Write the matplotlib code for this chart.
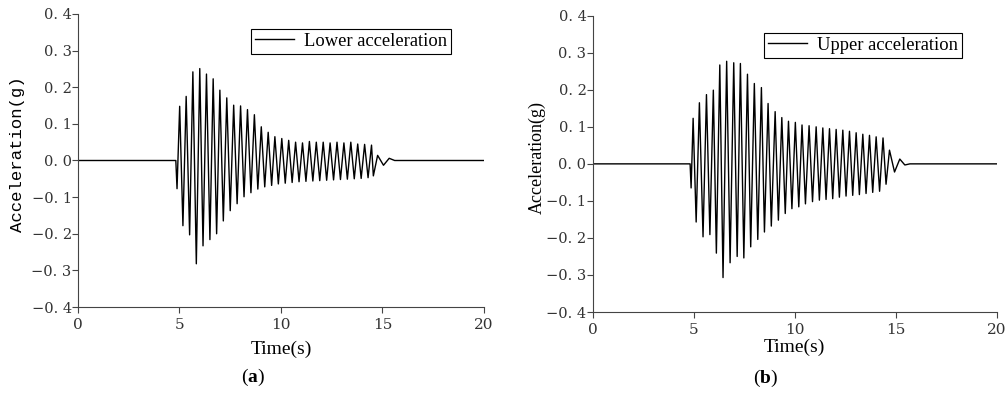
import numpy as np
import matplotlib
matplotlib.use('Agg')
import matplotlib.pyplot as plt

# peak / trough sequence (time in s, acceleration in g)
t_lower = [0.0, 4.82, 4.88, 5.01, 5.17, 5.33, 5.50, 5.66, 5.83, 6.00, 6.16, 6.33,
           6.50, 6.66, 6.83, 6.99, 7.16, 7.33, 7.50, 7.67, 7.84, 8.01, 8.18, 8.35,
           8.52, 8.69, 8.86, 9.03, 9.20, 9.37, 9.54, 9.70, 9.87, 10.04, 10.21, 10.38,
           10.55, 10.72, 10.89, 11.06, 11.23, 11.40, 11.57, 11.74, 11.91, 12.08, 12.25,
           12.42, 12.59, 12.76, 12.93, 13.10, 13.27, 13.44, 13.61, 13.78, 13.95, 14.12,
           14.29, 14.46, 14.55, 14.76, 15.05, 15.33, 15.60, 20.0]
acc_lower = [0.0, 0.0, -0.077, 0.148, -0.178, 0.175, -0.203, 0.242, -0.282, 0.251, -0.233, 0.236,
             -0.216, 0.223, -0.200, 0.192, -0.165, 0.171, -0.137, 0.151, -0.118, 0.149, -0.099, 0.139,
             -0.088, 0.125, -0.078, 0.092, -0.072, 0.077, -0.068, 0.065, -0.064, 0.060, -0.062, 0.055,
             -0.060, 0.050, -0.058, 0.048, -0.057, 0.052, -0.056, 0.050, -0.055, 0.050, -0.054,
             0.048, -0.053, 0.050, -0.052, 0.048, -0.051, 0.050, -0.050, 0.045, -0.049, 0.044,
             -0.047, 0.042, -0.042, 0.014, -0.013, 0.006, 0.0, 0.0]

t_upper = [0.0, 4.82, 4.87, 4.97, 5.12, 5.28, 5.46, 5.63, 5.80, 5.97, 6.12, 6.29,
           6.45, 6.63, 6.80, 6.98, 7.15, 7.31, 7.48, 7.66, 7.82, 8.00, 8.17, 8.35,
           8.50, 8.68, 8.84, 9.03, 9.19, 9.36, 9.53, 9.69, 9.86, 10.03, 10.20, 10.36,
           10.53, 10.71, 10.88, 11.06, 11.22, 11.39, 11.55, 11.72, 11.88, 12.05, 12.21,
           12.38, 12.54, 12.71, 12.87, 13.04, 13.20, 13.37, 13.53, 13.70, 13.86, 14.03,
           14.20, 14.37, 14.52, 14.69, 14.94, 15.20, 15.45, 15.70, 20.0]
acc_upper = [0.0, 0.0, -0.065, 0.123, -0.157, 0.165, -0.197, 0.187, -0.191, 0.199, -0.241, 0.267,
             -0.307, 0.277, -0.267, 0.273, -0.250, 0.271, -0.254, 0.242, -0.224, 0.217, -0.204, 0.206,
             -0.184, 0.163, -0.168, 0.141, -0.152, 0.125, -0.134, 0.115, -0.121, 0.112, -0.116, 0.105,
             -0.108, 0.103, -0.102, 0.100, -0.098, 0.097, -0.096, 0.095, -0.094, 0.093, -0.090,
             0.091, -0.087, 0.088, -0.085, 0.084, -0.083, 0.080, -0.080, 0.077, -0.077, 0.073,
             -0.074, 0.070, -0.055, 0.037, -0.022, 0.013, -0.003, 0.0, 0.0]

x_ticks = [0, 5, 10, 15, 20]
y_ticks = [-0.4, -0.3, -0.2, -0.1, 0.0, 0.1, 0.2, 0.3, 0.4]
y_tick_labels = ['\u22120. 4', '\u22120. 3', '\u22120. 2', '\u22120. 1', '0. 0',
                 '0. 1', '0. 2', '0. 3', '0. 4']

plt.rcParams['mathtext.fontset'] = 'custom'
plt.rcParams['mathtext.bf'] = 'Liberation Serif:bold'
plt.rcParams['mathtext.rm'] = 'Liberation Serif'

fig = plt.figure(figsize=(10.06, 3.94), dpi=100)
ax_a = fig.add_axes([0.0775, 0.2208, 0.4036, 0.7437])
ax_b = fig.add_axes([0.5892, 0.2081, 0.4016, 0.7520])

# ax, time, values, legend name, legend anchor, tag, tag pos, ylabel font, ylabel pos, xlabel pos
panels = [
    (ax_a, t_lower, acc_lower, 'Lower acceleration', (0.918, 0.948), 'a', (0.431, -0.242),
     dict(family='Liberation Mono', size=12.5), (-0.13, 0.52), (0.502, -0.115)),
    (ax_b, t_upper, acc_upper, 'Upper acceleration', (0.913, 0.941), 'b', (0.428, -0.223),
     dict(family='Liberation Serif', size=13), (-0.116, 0.52), (0.5, -0.09)),
]

for ax, t, acc, name, anchor, tag, tag_pos, ylab_font, ylab_pos, xlab_pos in panels:
    ax.plot(t, acc, color='black', lw=1.0, label=name)
    ax.set_xlim(0, 20)
    ax.set_ylim(-0.4, 0.4)
    ax.set_xticks(x_ticks)
    ax.set_xticklabels([str(v) for v in x_ticks], family='DejaVu Serif', size=11,
                       color='#333333')
    ax.set_yticks(y_ticks)
    ax.set_yticklabels(y_tick_labels, family='DejaVu Serif', size=10.5, color='#333333')
    ax.tick_params(direction='out', length=4, width=0.8, color='#444444')
    ax.tick_params(axis='x', pad=4)
    ax.tick_params(axis='y', pad=0.5)
    for s in ['top', 'right']:
        ax.spines[s].set_visible(False)
    for s in ['left', 'bottom']:
        ax.spines[s].set_color('#444444')
        ax.spines[s].set_linewidth(0.8)
    ax.set_xlabel('Time(s)', family='Liberation Serif', size=14)
    ax.xaxis.set_label_coords(*xlab_pos)
    ax.set_ylabel('Acceleration(g)', **ylab_font)
    ax.yaxis.set_label_coords(*ylab_pos)
    leg = ax.legend(loc='upper right', bbox_to_anchor=anchor, borderaxespad=0,
                    fancybox=False, edgecolor='black', framealpha=1,
                    handlelength=2.1, handletextpad=0.55, borderpad=0.2,
                    prop=dict(family='Liberation Serif', size=13.3))
    leg.get_frame().set_linewidth(0.8)
    ax.text(tag_pos[0], tag_pos[1], '($\\mathbf{%s}$)' % tag, transform=ax.transAxes,
            ha='center', va='center', family='Liberation Serif', size=14)

fig.savefig('out.png', dpi=100)
